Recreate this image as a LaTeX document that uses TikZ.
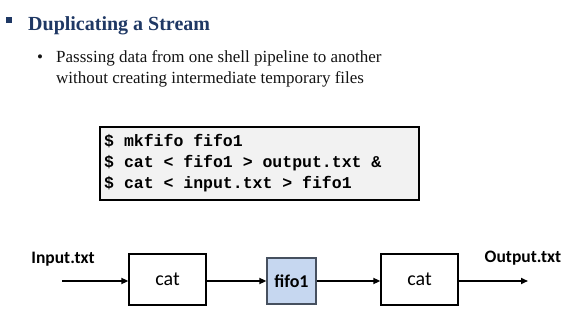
\documentclass[tikz,border=0pt]{standalone}
\usepackage{fontspec}
\setmainfont{Liberation Serif}
\newfontfamily\calfont{Carlito}
\newfontfamily\codefont{Liberation Mono}
\usetikzlibrary{arrows.meta}
\definecolor{navy}{RGB}{31,56,100}
\definecolor{bodyblack}{RGB}{20,20,20}
\definecolor{codegray}{RGB}{242,242,242}
\definecolor{fifoblue}{RGB}{198,215,240}
\definecolor{fifoedge}{RGB}{70,80,95}
\tikzset{
  catbox/.style={draw=black, line width=1.3pt, fill=white, minimum width=77pt, minimum height=51pt, inner sep=0pt, font=\calfont\fontsize{20}{24}\selectfont},
  fifobox/.style={draw=fifoedge, line width=1.3pt, fill=fifoblue, minimum width=49pt, minimum height=46pt, inner sep=0pt, font=\calfont\bfseries\fontsize{18}{22}\selectfont},
  codebox/.style={draw=black, line width=1.6pt, fill=codegray, minimum width=319pt, minimum height=73pt, inner sep=0pt},
  flow/.style={line width=1.6pt, -{Triangle[length=7pt,width=6pt]}},
  lbl/.style={font=\calfont\bfseries\fontsize{17.5}{21}\selectfont, inner sep=0pt},
  bodytext/.style={font=\fontsize{17}{21}\selectfont, text=bodyblack, inner sep=0pt, anchor=base west}
}
\begin{document}
\begin{tikzpicture}[x=1pt,y=-1pt]
\useasboundingbox (0,0) rectangle (574,319);
% heading
\node[fill=navy, minimum size=6pt, inner sep=0pt] (sq) at (9,20) {};
\node[anchor=base west, inner sep=0pt, text=navy, font=\bfseries\fontsize{20}{24}\selectfont] (title) at (28,30) {Duplicating a Stream};
\node[anchor=base, inner sep=0pt, text=bodyblack, font=\fontsize{17}{21}\selectfont] (dot) at (40,62) {\textbullet};
\node[bodytext] (line1) at (56,62) {Passsing data from one shell pipeline to another};
\node[bodytext] (line2) at (56,83) {without creating intermediate temporary files};
% code
\node[codebox] (box) at (259.5,163.5) {};
\node[anchor=west, align=left, inner sep=0pt, font=\codefont\bfseries\fontsize{16.5}{21}\selectfont] (code) at (104,163.5) {\$ mkfifo fifo1\\\$ cat < fifo1 > output.txt \&\\\$ cat < input.txt > fifo1};
% diagram
\node[catbox] (cat1) at (167.5,279.5) {cat};
\node[fifobox] (fifo) at (291.5,281) {fifo1};
\node[catbox] (cat2) at (419.5,279.5) {cat};
\coordinate (in) at (62,281);
\coordinate (out) at (528,281);
\node[lbl] (inlbl) at (63,259) {Input.txt};
\node[lbl] (outlbl) at (523,258) {Output.txt};
\draw[flow] (in) -- (in -| cat1.west);
\draw[flow] (cat1.east |- in) -- (fifo.west |- in);
\draw[flow] (fifo.east |- in) -- (cat2.west |- in);
\draw[flow] (cat2.east |- in) -- (out);
\end{tikzpicture}
\end{document}
